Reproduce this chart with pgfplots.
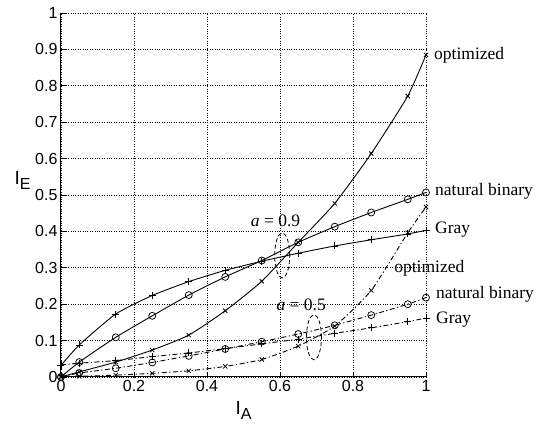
\documentclass[border=0pt]{standalone}
\usepackage{fontspec}
\setmainfont{Liberation Serif}
\setsansfont{Liberation Sans}
\usepackage{pgfplots}
\pgfplotsset{compat=1.18}

\pgfplotstableread{
x y
0 0
0.05 0.014
0.15 0.041
0.25 0.074
0.35 0.115
0.45 0.182
0.55 0.263
0.65 0.37
0.75 0.477
0.85 0.614
0.95 0.772
1 0.885
}\optA
\pgfplotstableread{
x y
0 0
0.05 0.041
0.15 0.109
0.25 0.168
0.35 0.225
0.45 0.275
0.55 0.32
0.65 0.37
0.75 0.413
0.85 0.452
0.95 0.488
1 0.507
}\natA
\pgfplotstableread{
x y
0 0.032
0.05 0.088
0.15 0.173
0.25 0.224
0.35 0.262
0.45 0.293
0.55 0.318
0.65 0.34
0.75 0.36
0.85 0.377
0.95 0.393
1 0.403
}\grayA
\pgfplotstableread{
x y
0 0
0.05 0.002
0.15 0.005
0.25 0.01
0.35 0.017
0.45 0.029
0.55 0.048
0.65 0.085
0.75 0.14
0.85 0.238
0.95 0.396
1 0.467
}\optB
\pgfplotstableread{
x y
0 0
0.05 0.011
0.15 0.024
0.25 0.04
0.35 0.058
0.45 0.077
0.55 0.097
0.65 0.118
0.75 0.142
0.85 0.17
0.95 0.2
1 0.218
}\natB
\pgfplotstableread{
x y
0 0.033
0.05 0.038
0.15 0.045
0.25 0.056
0.35 0.066
0.45 0.078
0.55 0.091
0.65 0.104
0.75 0.12
0.85 0.135
0.95 0.152
1 0.162
}\grayB

\begin{document}
\begin{tikzpicture}
\path[use as bounding box] (-61pt,-48pt) rectangle (483pt,377pt);
\pgfplotsset{
  solidc/.style={black, line width=0.9pt, smooth, tension=0.35, mark options={solid, line width=0.75pt}},
  dashc/.style={black, line width=0.9pt, smooth, tension=0.35, dash pattern=on 5pt off 2.5pt on 1.2pt off 2.5pt, mark options={solid, line width=0.75pt}},
}
\begin{axis}[
  at={(0,0)}, anchor=south west,
  width=365pt, height=364pt, scale only axis,
  xmin=0, xmax=1, ymin=0, ymax=1,
  xtick={0,0.2,0.4,0.6,0.8,1},
  ytick={0,0.1,0.2,0.3,0.4,0.5,0.6,0.7,0.8,0.9,1},
  axis lines*=left,
  axis line style={line width=1pt},
  tick align=inside,
  major tick length=5pt,
  tick style={black, line width=0.7pt},
  grid=major,
  major grid style={dotted, black, line width=0.8pt},
  ticklabel style={font=\sffamily\fontsize{16}{16}\selectfont},
  /pgf/number format/assume math mode=true,
  xlabel={\sffamily\fontsize{19}{19}\selectfont I\raisebox{-0.5ex}{\fontsize{16}{16}\selectfont A}},
  ylabel={\sffamily\fontsize{19}{19}\selectfont I\raisebox{-0.5ex}{\fontsize{16}{16}\selectfont E}},
  xlabel style={at={(axis description cs:0.5,-0.093)}, anchor=center},
  ylabel style={at={(axis description cs:-0.105,0.54)}, anchor=center, rotate=-90},
  clip=false,
]
\addplot[solidc, mark=x, mark size=3pt] table {\optA};
\addplot[solidc, mark=o, mark size=3.5pt] table {\natA};
\addplot[solidc, mark=+, mark size=3.5pt] table {\grayA};
\addplot[dashc, mark=x, mark size=3pt] table {\optB};
\addplot[dashc, mark=o, mark size=3.5pt] table {\natB};
\addplot[dashc, mark=+, mark size=3.5pt] table {\grayB};

\draw[black, line width=0.8pt, dash pattern=on 4pt off 2.5pt] (axis cs:0.606,0.334) ellipse [x radius=7.5pt, y radius=22.5pt];
\draw[black, line width=0.8pt, dash pattern=on 4pt off 2.5pt] (axis cs:0.693,0.109) ellipse [x radius=7.5pt, y radius=22.5pt];

\begin{scope}[every node/.style={font=\fontsize{17.5}{17.5}\selectfont, inner sep=0pt}]
\node[anchor=west, xshift=8pt] at (axis cs:1,0.885) {optimized};
\node[anchor=west, xshift=9pt] at (axis cs:1,0.509) {natural binary};
\node[anchor=west, xshift=9pt] at (axis cs:1,0.404) {Gray};
\node at (axis cs:1.009,0.30) {optimized};
\node[anchor=west, xshift=10pt] at (axis cs:1,0.226) {natural binary};
\node[anchor=west, xshift=10pt] at (axis cs:1,0.159) {Gray};
\node at (axis cs:0.588,0.429) {\textit{a} = 0.9};
\node at (axis cs:0.658,0.198) {\textit{a} = 0.5};
\end{scope}
\end{axis}
\end{tikzpicture}
\end{document}
